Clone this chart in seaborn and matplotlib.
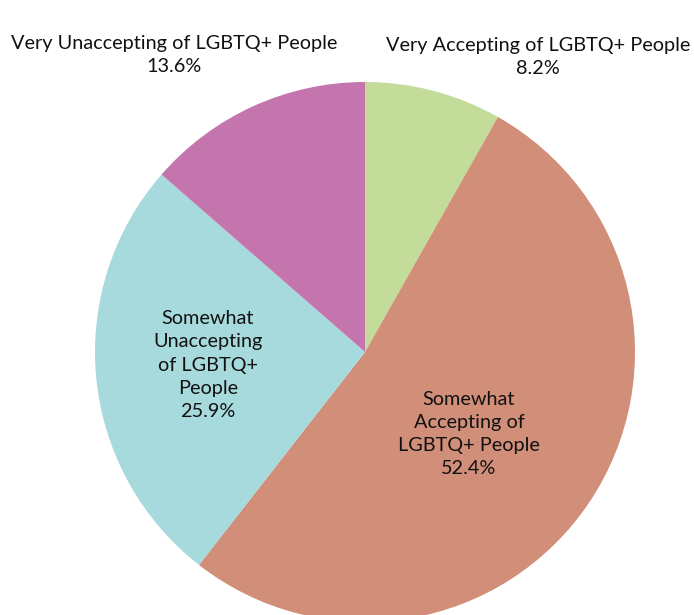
import matplotlib
matplotlib.use('Agg')
import matplotlib.pyplot as plt
import seaborn as sns

categories = ['Very Accepting of LGBTQ+ People',
              'Somewhat Accepting of LGBTQ+ People',
              'Somewhat Unaccepting of LGBTQ+ People',
              'Very Unaccepting of LGBTQ+ People']
shares = [8.2, 52.4, 25.9, 13.6]
colors = ['#c4dc9a', '#d18e78', '#a7dadd', '#c475ad']

# label text (line breaks as in the original) and pixel positions
label_text = ['Very Accepting of LGBTQ+ People',
              'Somewhat\nAccepting of\nLGBTQ+ People',
              'Somewhat\nUnaccepting\nof LGBTQ+\nPeople',
              'Very Unaccepting of LGBTQ+ People']
label_pos = [(538, 57), (469, 434), (208, 365), (174, 55)]

sns.set_theme(style='white')
plt.rcParams['font.family'] = ['Lato', 'DejaVu Sans']

W, H = 694, 615
fig = plt.figure(figsize=(W / 100, H / 100), dpi=100)
ax = fig.add_axes([0, 0, 1, 1])

ax.pie(shares, colors=colors, startangle=90, counterclock=False,
       center=(365, H - 352), radius=270,
       wedgeprops=dict(linewidth=0))
ax.set_xlim(0, W)
ax.set_ylim(0, H)
ax.set_aspect('equal')
ax.axis('off')

for txt, val, (px, py) in zip(label_text, shares, label_pos):
    ax.text(px, H - py, f'{txt}\n{val:.1f}%', ha='center', va='center',
            fontsize=14.3, color='#111111', linespacing=1.45)

fig.savefig('out.png', dpi=100)
